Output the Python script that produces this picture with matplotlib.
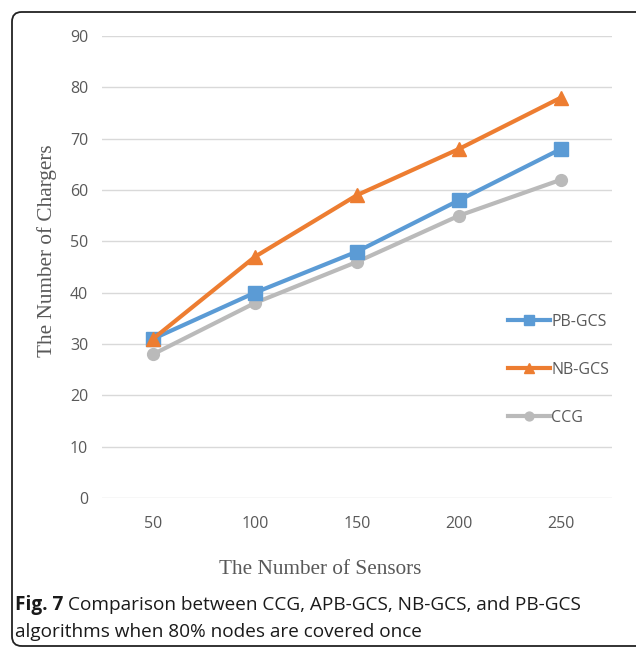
import matplotlib.pyplot as plt
from matplotlib.patches import FancyBboxPatch

sensors = ["50", "100", "150", "200", "250"]
pb_gcs = [31, 40, 48, 58, 68]
nb_gcs = [31, 47, 59, 68, 78]
ccg = [28, 38, 46, 55, 62]
y_ticks = [0, 10, 20, 30, 40, 50, 60, 70, 80, 90]

W, H = 636, 649
fig = plt.figure(figsize=(W / 100, H / 100), dpi=100)

# rounded frame around chart + caption
frame = FancyBboxPatch((12 / W, 3 / H), (W + 10) / W, (H - 15) / H,
                       boxstyle="round,pad=0,rounding_size=0.015",
                       transform=fig.transFigure, fill=False,
                       edgecolor="#222222", linewidth=1.3)
fig.patches.append(frame)

ax = fig.add_axes([102 / W, (H - 498) / H, 510 / W, 462 / H])
x = range(len(sensors))
ax.plot(x, pb_gcs, color="#5B9BD5", lw=3, marker="s", ms=9.5, label="PB-GCS", zorder=3)
ax.plot(x, nb_gcs, color="#ED7D31", lw=3, marker="^", ms=10, label="NB-GCS", zorder=4)
ax.plot(x, ccg, color="#BABABA", lw=3, marker="o", ms=8.5, label="CCG", zorder=2)

ax.set_xlim(-0.5, 4.5)
ax.set_ylim(0, 90)
ax.set_yticks(y_ticks)
ax.set_xticks(list(x))
ax.set_xticklabels(sensors)
ax.grid(axis="y", color="#D9D9D9", lw=1)
ax.set_axisbelow(True)
for s in ax.spines.values():
    s.set_visible(False)
ax.tick_params(axis="y", length=0, labelsize=11.5, labelcolor="#595959", pad=10)
ax.tick_params(axis="x", length=0, labelsize=11.5, labelcolor="#595959", pad=13)
for lab in ax.get_xticklabels() + ax.get_yticklabels():
    lab.set_family("Open Sans")

leg = ax.legend(loc="center left", bbox_to_anchor=(494 / W, (H - 370) / H),
                bbox_transform=fig.transFigure, frameon=False, markerscale=0.75,
                handlelength=2.6, handletextpad=0.1, labelspacing=2.0,
                prop={"family": "Open Sans", "size": 11.5})
for t in leg.get_texts():
    t.set_color("#595959")

fig.text(47 / W, (H - 251) / H, "The Number of Chargers", rotation=90,
         ha="center", va="center", family="Liberation Serif", size=15.3, color="#595959")
fig.text(320 / W, (H - 570) / H, "The Number of Sensors",
         ha="center", va="center", family="Liberation Serif", size=15.3, color="#595959")

# caption
cap_size = 13.7
bold = fig.text(15 / W, (H - 605) / H, "Fig. 7", ha="left", va="center",
                family="Open Sans", weight="bold", size=cap_size, color="#1a1a1a")
fig.canvas.draw()
bb = bold.get_window_extent()
fig.text(bb.x1 / W + 5 / W, (H - 605) / H,
         "Comparison between CCG, APB-GCS, NB-GCS, and PB-GCS",
         ha="left", va="center", family="Open Sans", size=cap_size, color="#1a1a1a")
fig.text(15 / W, (H - 632) / H, "algorithms when 80% nodes are covered once",
         ha="left", va="center", family="Open Sans", size=cap_size, color="#1a1a1a")

fig.savefig("out.png", dpi=100)
